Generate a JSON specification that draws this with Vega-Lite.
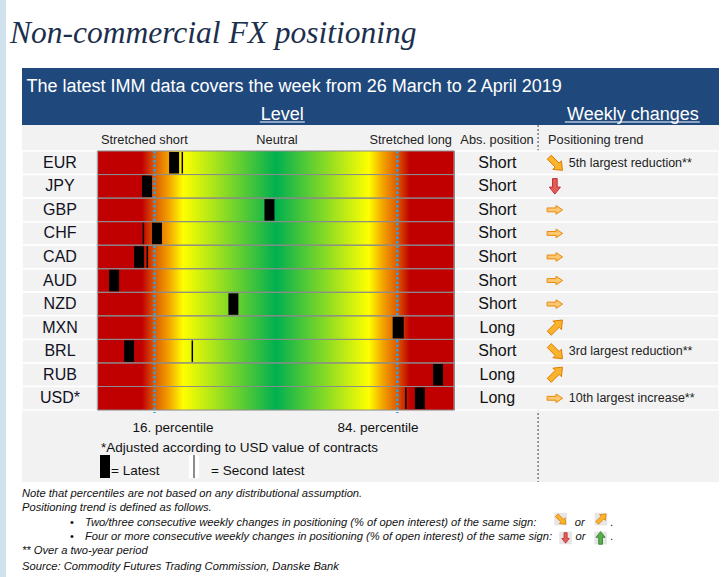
{
  "$schema": "https://vega.github.io/schema/vega-lite/v6.json",
  "width": 724,
  "height": 577,
  "padding": 0,
  "autosize": {"type": "none"},
  "background": "white",
  "config": {"view": {"stroke": null}, "font": "Liberation Sans", "axis": {"disable": true}, "legend": {"disable": true}},
  "data": {"values": [
    {"cur": "EUR", "latest": 21.5, "second": 23.8, "pos": "Short", "trend": "se", "note": "5th largest reduction**"},
    {"cur": "JPY", "latest": 13.9, "second": null, "pos": "Short", "trend": "down", "note": ""},
    {"cur": "GBP", "latest": 48.2, "second": null, "pos": "Short", "trend": "right", "note": ""},
    {"cur": "CHF", "latest": 16.7, "second": 12.9, "pos": "Short", "trend": "right", "note": ""},
    {"cur": "CAD", "latest": 11.7, "second": 14.0, "pos": "Short", "trend": "right", "note": ""},
    {"cur": "AUD", "latest": 4.7, "second": null, "pos": "Short", "trend": "right", "note": ""},
    {"cur": "NZD", "latest": 38.1, "second": null, "pos": "Short", "trend": "right", "note": ""},
    {"cur": "MXN", "latest": 84.4, "second": 82.9, "pos": "Long", "trend": "ne", "note": ""},
    {"cur": "BRL", "latest": 8.9, "second": 26.6, "pos": "Short", "trend": "se", "note": "3rd largest reduction**"},
    {"cur": "RUB", "latest": 95.4, "second": null, "pos": "Long", "trend": "ne", "note": ""},
    {"cur": "USD*", "latest": 90.3, "second": 86.4, "pos": "Long", "trend": "right", "note": "10th largest increase**"}
  ]},
  "resolve": {"scale": {"y": "independent"}},
  "layer": [
    {
      "data": {"values": [{}]},
      "layer": [
        {"mark": {"type": "rect", "fill": "#cfe2ee"},
         "encoding": {
           "x": {"datum": -27.24, "type": "quantitative", "scale": {"domain": [-27.24, 175.45], "nice": false, "zero": false}},
           "x2": {"datum": -25.56},
           "y": {"datum": -6.412, "type": "quantitative", "scale": {"domain": [-6.412, 18.089], "nice": false, "zero": false, "reverse": true}},
           "y2": {"datum": 18.089}}},
        {"mark": {"type": "rect", "fill": "#1f497d"},
         "encoding": {"x": {"datum": -21.08}, "x2": {"datum": 174.05}, "y": {"datum": -3.524}, "y2": {"datum": -1.104}}},
        {"mark": {"type": "rect", "fill": "#f2f2f2"},
         "encoding": {"x": {"datum": -21.08}, "x2": {"datum": 174.05}, "y": {"datum": -1.104}, "y2": {"datum": 14.055}}},
        {"mark": {"type": "rect", "fill": {"gradient": "linear", "x1": 0, "y1": 0, "x2": 1, "y2": 0, "stops": [
            {"offset": 0, "color": "#c00000"},
            {"offset": 0.125, "color": "#c00000"},
            {"offset": 0.16, "color": "#dc5a00"},
            {"offset": 0.2, "color": "#f3a200"},
            {"offset": 0.24, "color": "#ffff00"},
            {"offset": 0.5, "color": "#00b050"},
            {"offset": 0.76, "color": "#ffff00"},
            {"offset": 0.8, "color": "#f3a200"},
            {"offset": 0.84, "color": "#dc5a00"},
            {"offset": 0.875, "color": "#c00000"},
            {"offset": 1, "color": "#c00000"}]}},
         "encoding": {"x": {"datum": 0}, "x2": {"datum": 100}, "y": {"datum": 0}, "y2": {"datum": 11}}},
        {"data": {"values": [{"pct": 16}, {"pct": 84}]},
         "mark": {"type": "rule", "stroke": "#35a0dc", "strokeWidth": 2.5, "strokeDash": [2.5, 2]},
         "encoding": {"x": {"field": "pct", "type": "quantitative"}, "y": {"datum": 0}, "y2": {"datum": 11.13}}},
        {"mark": {"type": "rule", "stroke": "#404040", "strokeWidth": 1, "strokeDash": [2, 2]},
         "encoding": {"x": {"datum": 123.4}, "y": {"datum": -1.104}, "y2": {"datum": 14.055}}},
        {"mark": {"type": "text", "text": "Non-commercial FX positioning", "font": "Liberation Serif", "fontStyle": "italic", "fontSize": 31.5, "align": "left", "baseline": "alphabetic", "fill": "#1c2f4d"},
         "encoding": {"x": {"datum": -24.44}, "y": {"datum": -4.586}}},
        {"mark": {"type": "text", "text": "The latest IMM data covers the week from 26 March to 2 April 2019", "fontSize": 18, "align": "left", "baseline": "middle", "fill": "white"},
         "encoding": {"x": {"datum": -19.82}, "y": {"datum": -2.718}}},
        {"mark": {"type": "text", "text": "Level", "fontSize": 18, "align": "center", "baseline": "middle", "fill": "white"},
         "encoding": {"x": {"datum": 51.8}, "y": {"datum": -1.529}}},
        {"mark": {"type": "text", "text": "Weekly changes", "fontSize": 18, "align": "center", "baseline": "middle", "fill": "white"},
         "encoding": {"x": {"datum": 149.97}, "y": {"datum": -1.529}}},
        {"mark": {"type": "rule", "stroke": "white", "strokeWidth": 1},
         "encoding": {"x": {"datum": 45.5}, "x2": {"datum": 58.1}, "y": {"datum": -1.231}}},
        {"mark": {"type": "rule", "stroke": "white", "strokeWidth": 1},
         "encoding": {"x": {"datum": 130.9}, "x2": {"datum": 168.7}, "y": {"datum": -1.231}}},
        {"mark": {"type": "text", "text": "Stretched short", "fontSize": 12.8, "align": "left", "baseline": "middle", "fill": "#222222"},
         "encoding": {"x": {"datum": 1.04}, "y": {"datum": -0.467}}},
        {"mark": {"type": "text", "text": "Neutral", "fontSize": 12.8, "align": "center", "baseline": "middle", "fill": "#222222"},
         "encoding": {"x": {"datum": 50.3}, "y": {"datum": -0.467}}},
        {"mark": {"type": "text", "text": "Stretched long", "fontSize": 12.8, "align": "right", "baseline": "middle", "fill": "#222222"},
         "encoding": {"x": {"datum": 99.3}, "y": {"datum": -0.467}}},
        {"mark": {"type": "text", "text": "Abs. position", "fontSize": 12.8, "align": "center", "baseline": "middle", "fill": "#222222"},
         "encoding": {"x": {"datum": 111.9}, "y": {"datum": -0.467}}},
        {"mark": {"type": "text", "text": "Positioning trend", "fontSize": 12.8, "align": "left", "baseline": "middle", "fill": "#222222"},
         "encoding": {"x": {"datum": 126.2}, "y": {"datum": -0.467}}},
        {"mark": {"type": "text", "text": "16. percentile", "fontSize": 13.5, "align": "center", "baseline": "middle", "fill": "#111111"},
         "encoding": {"x": {"datum": 21.2}, "y": {"datum": 11.762}}},
        {"mark": {"type": "text", "text": "84. percentile", "fontSize": 13.5, "align": "center", "baseline": "middle", "fill": "#111111"},
         "encoding": {"x": {"datum": 78.6}, "y": {"datum": 11.762}}},
        {"mark": {"type": "text", "text": "*Adjusted according to USD value of contracts", "fontSize": 13.5, "align": "left", "baseline": "middle", "fill": "#111111"},
         "encoding": {"x": {"datum": 1.04}, "y": {"datum": 12.611}}},
        {"mark": {"type": "rect", "fill": "black"},
         "encoding": {"x": {"datum": 0.76}, "x2": {"datum": 3.56}, "y": {"datum": 12.909}, "y2": {"datum": 13.885}}},
        {"mark": {"type": "text", "text": "= Latest", "fontSize": 13.5, "align": "left", "baseline": "middle", "fill": "#111111"},
         "encoding": {"x": {"datum": 3.84}, "y": {"datum": 13.588}}},
        {"mark": {"type": "rect", "fill": "white"},
         "encoding": {"x": {"datum": 25.6}, "x2": {"datum": 28.5}, "y": {"datum": 12.909}, "y2": {"datum": 13.885}}},
        {"mark": {"type": "rule", "stroke": "#666666", "strokeWidth": 1.5},
         "encoding": {"x": {"datum": 27.07}, "y": {"datum": 12.909}, "y2": {"datum": 13.885}}},
        {"mark": {"type": "text", "text": "= Second latest", "fontSize": 13.5, "align": "left", "baseline": "middle", "fill": "#111111"},
         "encoding": {"x": {"datum": 31.83}, "y": {"datum": 13.588}}},
        {"mark": {"type": "text", "text": "Note that percentiles are not based on any distributional assumption.", "fontSize": 11.2, "fontStyle": "italic", "align": "left", "baseline": "middle", "fill": "#111111"},
         "encoding": {"x": {"datum": -21.08}, "y": {"datum": 14.565}}},
        {"mark": {"type": "text", "text": "Positioning trend is defined as follows.", "fontSize": 11.2, "fontStyle": "italic", "align": "left", "baseline": "middle", "fill": "#111111"},
         "encoding": {"x": {"datum": -21.08}, "y": {"datum": 15.159}}},
        {"mark": {"type": "text", "text": "•", "fontSize": 11, "align": "left", "baseline": "middle", "fill": "#111111"},
         "encoding": {"x": {"datum": -7.64}, "y": {"datum": 15.796}}},
        {"mark": {"type": "text", "text": "•", "fontSize": 11, "align": "left", "baseline": "middle", "fill": "#111111"},
         "encoding": {"x": {"datum": -7.64}, "y": {"datum": 16.391}}},
        {"mark": {"type": "text", "text": "Two/three consecutive weekly changes in positioning (% of open interest) of the same sign:", "fontSize": 11.2, "fontStyle": "italic", "align": "left", "baseline": "middle", "fill": "#111111"},
         "encoding": {"x": {"datum": -3.44}, "y": {"datum": 15.796}}},
        {"mark": {"type": "text", "text": "Four or more consecutive weekly changes in positioning (% of open interest) of the same sign:", "fontSize": 11.2, "fontStyle": "italic", "align": "left", "baseline": "middle", "fill": "#111111"},
         "encoding": {"x": {"datum": -3.44}, "y": {"datum": 16.391}}},
        {"mark": {"type": "point", "shape": "square", "size": 160, "filled": true, "fill": "#e6e6e6", "opacity": 1, "strokeWidth": 0},
         "encoding": {"x": {"datum": 129.7}, "y": {"datum": 15.63}}},
        {"mark": {"type": "point", "shape": "square", "size": 160, "filled": true, "fill": "#e6e6e6", "opacity": 1, "strokeWidth": 0},
         "encoding": {"x": {"datum": 141.0}, "y": {"datum": 15.63}}},
        {"mark": {"type": "point", "shape": "square", "size": 160, "filled": true, "fill": "#e6e6e6", "opacity": 1, "strokeWidth": 0},
         "encoding": {"x": {"datum": 131.1}, "y": {"datum": 16.43}}},
        {"mark": {"type": "point", "shape": "square", "size": 160, "filled": true, "fill": "#e6e6e6", "opacity": 1, "strokeWidth": 0},
         "encoding": {"x": {"datum": 140.9}, "y": {"datum": 16.43}}},
        {"mark": {"type": "point", "shape": "M-0.467,-0.976L0.552,0.042L0.848,-0.255L0.976,0.976L-0.255,0.848L0.042,0.552L-0.976,-0.467Z", "size": 110, "filled": true, "fill": "#f9b42c", "stroke": "#e07b00", "strokeWidth": 0.8, "opacity": 1},
         "encoding": {"x": {"datum": 129.7}, "y": {"datum": 15.63}}},
        {"mark": {"type": "point", "shape": "M-0.467,0.976L0.552,-0.042L0.848,0.255L0.976,-0.976L-0.255,-0.848L0.042,-0.552L-0.976,0.467Z", "size": 110, "filled": true, "fill": "#f9b42c", "stroke": "#e07b00", "strokeWidth": 0.8, "opacity": 1},
         "encoding": {"x": {"datum": 141.0}, "y": {"datum": 15.63}}},
        {"mark": {"type": "point", "shape": "M-0.3,-1L0.3,-1L0.3,0.1L0.72,0.1L0,1L-0.72,0.1L-0.3,0.1Z", "size": 110, "filled": true, "fill": "#e35b5b", "stroke": "#c0302c", "strokeWidth": 0.8, "opacity": 1},
         "encoding": {"x": {"datum": 131.1}, "y": {"datum": 16.43}}},
        {"mark": {"type": "point", "shape": "M-0.3,1L0.3,1L0.3,-0.1L0.72,-0.1L0,-1L-0.72,-0.1L-0.3,-0.1Z", "size": 160, "filled": true, "fill": "#55b04a", "stroke": "#2c7a2c", "strokeWidth": 0.8, "opacity": 1},
         "encoding": {"x": {"datum": 140.9}, "y": {"datum": 16.43}}},
        {"mark": {"type": "text", "text": "or", "fontSize": 11.2, "fontStyle": "italic", "align": "left", "baseline": "middle", "fill": "#111111"},
         "encoding": {"x": {"datum": 133.7}, "y": {"datum": 15.796}}},
        {"mark": {"type": "text", "text": "or", "fontSize": 11.2, "fontStyle": "italic", "align": "left", "baseline": "middle", "fill": "#111111"},
         "encoding": {"x": {"datum": 133.9}, "y": {"datum": 16.391}}},
        {"mark": {"type": "text", "text": ".", "fontSize": 11.2, "align": "left", "baseline": "middle", "fill": "#111111"},
         "encoding": {"x": {"datum": 143.5}, "y": {"datum": 15.796}}},
        {"mark": {"type": "text", "text": ".", "fontSize": 11.2, "align": "left", "baseline": "middle", "fill": "#111111"},
         "encoding": {"x": {"datum": 143.5}, "y": {"datum": 16.391}}},
        {"mark": {"type": "text", "text": "** Over a two-year period", "fontSize": 11.2, "fontStyle": "italic", "align": "left", "baseline": "middle", "fill": "#111111"},
         "encoding": {"x": {"datum": -21.08}, "y": {"datum": 16.985}}},
        {"mark": {"type": "text", "text": "Source:  Commodity Futures Trading Commission, Danske Bank", "fontSize": 11.2, "fontStyle": "italic", "align": "left", "baseline": "middle", "fill": "#111111"},
         "encoding": {"x": {"datum": -21.08}, "y": {"datum": 17.665}}}
      ]
    },
    {
      "layer": [
        {"mark": {"type": "rect", "fill": "#f2f2f2", "stroke": "white", "strokeWidth": 1.5},
         "encoding": {
           "x": {"datum": -21.08},
           "x2": {"datum": 0},
           "y": {"field": "cur", "type": "nominal", "sort": null, "scale": {"type": "band", "paddingInner": 0, "paddingOuter": 0, "range": [151, 410.05]}}}},
        {"mark": {"type": "rect", "fill": "#f2f2f2", "stroke": "white", "strokeWidth": 1.5},
         "encoding": {"x": {"datum": 100}, "x2": {"datum": 174.05}, "y": {"field": "cur", "type": "nominal", "sort": null, "scale": {"type": "band", "paddingInner": 0, "paddingOuter": 0, "range": [151, 410.05]}}}},
        {"mark": {"type": "rect", "fill": "transparent", "stroke": "#8c8c8c", "strokeWidth": 1},
         "encoding": {"x": {"datum": 0}, "x2": {"datum": 100}, "y": {"field": "cur", "type": "nominal", "sort": null, "scale": {"type": "band", "paddingInner": 0, "paddingOuter": 0, "range": [151, 410.05]}}}},
        {"mark": {"type": "tick", "color": "black", "thickness": 1.5, "size": 21.5, "opacity": 1},
         "encoding": {"x": {"field": "second", "type": "quantitative"}, "y": {"field": "cur", "type": "nominal", "sort": null, "scale": {"type": "band", "paddingInner": 0, "paddingOuter": 0, "range": [151, 410.05]}}}},
        {"mark": {"type": "tick", "color": "black", "thickness": 10, "size": 21.5, "opacity": 1},
         "encoding": {"x": {"field": "latest", "type": "quantitative"}, "y": {"field": "cur", "type": "nominal", "sort": null, "scale": {"type": "band", "paddingInner": 0, "paddingOuter": 0, "range": [151, 410.05]}}}},
        {"mark": {"type": "text", "fontSize": 16, "align": "center", "baseline": "middle", "fill": "#111122"},
         "encoding": {"x": {"datum": -10.44}, "y": {"field": "cur", "type": "nominal", "sort": null, "scale": {"type": "band", "paddingInner": 0, "paddingOuter": 0, "range": [151, 410.05]}}, "text": {"field": "cur"}}},
        {"mark": {"type": "text", "fontSize": 16, "align": "center", "baseline": "middle", "fill": "#111111"},
         "encoding": {"x": {"datum": 112.0}, "y": {"field": "cur", "type": "nominal", "sort": null, "scale": {"type": "band", "paddingInner": 0, "paddingOuter": 0, "range": [151, 410.05]}}, "text": {"field": "pos"}}},
        {"mark": {"type": "point", "filled": true, "opacity": 1, "size": 240, "strokeWidth": 1},
         "encoding": {
           "x": {"datum": 128.1},
           "y": {"field": "cur", "type": "nominal", "sort": null, "scale": {"type": "band", "paddingInner": 0, "paddingOuter": 0, "range": [151, 410.05]}},
           "shape": {"field": "trend", "type": "nominal", "scale": {"domain": ["right", "se", "ne", "down"], "range": [
             "M-1,-0.25L0.15,-0.25L0.15,-0.56L1,0L0.15,0.56L0.15,0.25L-1,0.25Z",
             "M-0.467,-0.976L0.552,0.042L0.848,-0.255L0.976,0.976L-0.255,0.848L0.042,0.552L-0.976,-0.467Z",
             "M-0.467,0.976L0.552,-0.042L0.848,0.255L0.976,-0.976L-0.255,-0.848L0.042,-0.552L-0.976,0.467Z",
             "M-0.3,-1L0.3,-1L0.3,0.1L0.72,0.1L0,1L-0.72,0.1L-0.3,0.1Z"]}},
           "fill": {"field": "trend", "type": "nominal", "scale": {"domain": ["right", "se", "ne", "down"], "range": ["#fdc870", "#f9b42c", "#f9b42c", "#e35b5b"]}},
           "stroke": {"field": "trend", "type": "nominal", "scale": {"domain": ["right", "se", "ne", "down"], "range": ["#e8890c", "#e07b00", "#e07b00", "#c0302c"]}}}},
        {"mark": {"type": "text", "fontSize": 12.5, "align": "left", "baseline": "middle", "fill": "#222222"},
         "encoding": {"x": {"datum": 132.0}, "y": {"field": "cur", "type": "nominal", "sort": null, "scale": {"type": "band", "paddingInner": 0, "paddingOuter": 0, "range": [151, 410.05]}}, "text": {"field": "note"}}}
      ]
    }
  ]
}
